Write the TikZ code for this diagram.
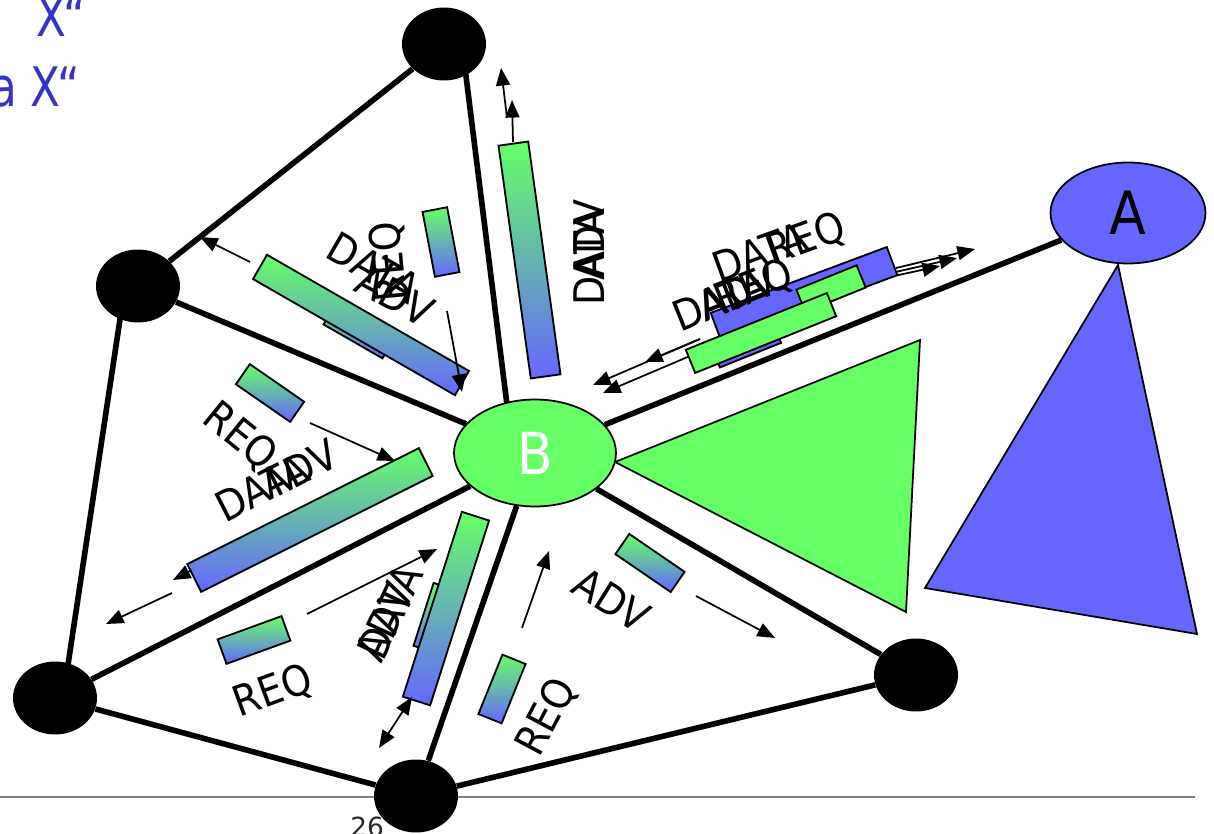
\documentclass[tikz,border=0pt]{standalone}
\usepackage{fontspec}
\setmainfont{DejaVu Sans}
\usetikzlibrary{shapes.geometric,calc,arrows.meta}
\definecolor{gG}{RGB}{102,255,102}
\definecolor{gB}{RGB}{102,102,255}
\definecolor{ttl}{RGB}{51,51,204}
\definecolor{gline}{RGB}{128,128,128}
\pgfdeclarelayer{bg}
\pgfsetlayers{bg,main}
\newcommand{\rbox}[6]{%
 \path[#1] ($(#2,#3)+(#6:#4/2)+(#6+90:#5/2)$) -- ($(#2,#3)+(#6:#4/2)+(#6-90:#5/2)$) -- ($(#2,#3)+(#6+180:#4/2)+(#6-90:#5/2)$) -- ($(#2,#3)+(#6+180:#4/2)+(#6+90:#5/2)$) -- cycle;}
\newcommand{\nt}[1]{\scalebox{0.9}[1]{#1}}
\begin{document}
\begin{tikzpicture}[x=0.02cm,y=-0.02cm,
  edge/.style={line width=3.2pt},
  blk/.style={ellipse,fill=black,minimum width=1.68cm,minimum height=1.46cm,inner sep=0pt},
  grad/.style={draw=black,line width=1.05pt,top color=gG,bottom color=gB},
  solidg/.style={draw=black,line width=1.05pt,fill=gG},
  solidb/.style={draw=black,line width=1.05pt,fill=gB},
  arr/.style={line width=1pt,-{Triangle[length=10pt,width=8pt]}},
  darr/.style={line width=1pt,{Triangle[length=10pt,width=8pt]}-{Triangle[length=10pt,width=8pt]}},
  lbl/.style={font=\fontsize{24}{26}\selectfont,inner sep=0pt}]
\useasboundingbox (0,0) rectangle (1214,834);

% nodes
\node[blk] (top) at (444,44) {};
\node[blk] (lft) at (138,286) {};
\node[blk] (bl) at (55,698) {};
\node[blk] (bot) at (416,796) {};
\node[blk] (rb) at (916,675) {};
\node[ellipse,draw,line width=1pt,fill=gG,minimum width=3.24cm,minimum height=2.14cm,inner sep=0pt,text=white,font=\fontsize{33}{36}\selectfont] (B) at (535,453) {\scalebox{0.9}[1]{B}};
\node[ellipse,draw,line width=1pt,fill=gB,minimum width=3.1cm,minimum height=2.02cm,inner sep=0pt,font=\fontsize{34}{36}\selectfont] (A) at (1128,213) {\scalebox{0.9}[1]{A}};

\begin{pgfonlayer}{bg}
\draw[gline,line width=1.1pt] (0,797) -- (1195,797);
\node[anchor=base west,inner sep=0pt,font=\fontsize{15}{18}\selectfont,text={rgb,255:red,40;green,40;blue,40}] (pg) at (350,836) {26};
\draw[edge] (top) -- (lft);
\draw[edge] ([xshift=-0.26cm]lft.center) -- ([xshift=0.16cm]bl.center);
\draw[edge] (bl) -- (bot);
\draw[edge] (bot) -- (rb);
\draw[edge] ([xshift=0.36cm]top.center) -- ([xshift=-0.44cm]B.center);
\draw[edge] (lft) -- (B);
\draw[edge] (bl) -- (B);
\draw[edge] (bot) -- (B);
\draw[edge] (rb) -- (B);
\draw[edge] (B) -- (A);
\draw[line width=1pt,fill=gG] (615,462) -- (920,340) -- (906,612) -- cycle;
\draw[line width=1pt,fill=gB] (1118,265) -- (925,588) -- (1197,634) -- cycle;
\end{pgfonlayer}

% title text
\node[anchor=base east,inner sep=0pt,text=ttl,font=\fontsize{31}{36}\selectfont] (x1) at (86,37) {\scalebox{0.8}[1]{X“}};
\node[anchor=base east,inner sep=0pt,text=ttl,font=\fontsize{31}{36}\selectfont] (x2) at (80,107) {\scalebox{0.8}[1]{a X“}};

% arrows under right cluster
\draw[arr] (862,283) -- (940,266);
\draw[arr] (878,276) -- (957,258);
\draw[arr] (896,268) -- (975,249);
\draw[arr] (700,339) -- (593,385);
\draw[arr] (700,339) -- (645,362);
\draw[arr] (690,356) -- (603,393);

% rectangles
\rbox{grad}{359}{331}{68}{24}{29.9}
\rbox{grad}{361}{325}{233}{28}{29.9}
\rbox{grad}{441}{242}{66}{25}{79.2}
\rbox{grad}{529.5}{260}{235}{30}{82.1}
\rbox{grad}{270}{393}{66}{24.5}{34.7}
\rbox{grad}{310}{520}{259}{31}{-26.6}
\rbox{grad}{254}{640}{68}{26}{-20}
\rbox{grad}{435}{618}{66}{24}{107.7}
\rbox{grad}{446}{608.6}{194}{28.6}{107.7}
\rbox{grad}{502}{689}{64}{25}{112}
\rbox{grad}{650}{563}{67}{24.5}{34.4}
\rbox{solidb}{804}{294}{188}{30}{-20.5}
\rbox{solidg}{831}{288.6}{65}{24}{-22}
\rbox{solidb}{746}{344}{66}{24}{-21.9}
\rbox{solidg}{761}{333}{152}{25}{-21.9}

% other arrows
\draw[arr] (250,262) -- (200,237);
\draw[arr] (447,311) -- (462,392);
\draw[arr] (513,142) -- (512,100);
\draw[arr] (507,118) -- (501,68);
\draw[arr] (310,423) -- (395,461);
\draw[arr] (190,571) -- (173,580);
\draw[arr] (172,593) -- (106,624);
\draw[arr] (307,614) -- (437,549);
\draw[darr] (412,697) -- (379,748);
\draw[arr] (522,628) -- (549,551);
\draw[arr] (696,596) -- (775,638);

% labels
\node[lbl,rotate=-30] (t1) at (374,268) {\nt{DATA}};
\node[lbl,rotate=-28] (t2) at (395,296) {\nt{ADV}};
\node[lbl,rotate=95] (t3) at (390,262) {\nt{REQ}};
\node[lbl,rotate=90] (t4) at (589,257) {\nt{DATA}};
\node[lbl,rotate=90] (t5) at (589,240) {\nt{ADV}};
\node[lbl,rotate=20] (t6) at (760,252) {\nt{DATA}};
\node[lbl,rotate=20] (t7) at (806,240) {\nt{REQ}};
\node[lbl,rotate=22] (t8) at (720,300) {\nt{DATA}};
\node[lbl,rotate=22] (t9) at (737,293) {\nt{ADV}};
\node[lbl,rotate=22] (t10) at (754,287) {\nt{REQ}};
\node[lbl,rotate=-39] (t11) at (240,437) {\nt{REQ}};
\node[lbl,rotate=27] (t12) at (262,488) {\nt{DATA}};
\node[lbl,rotate=27] (t13) at (299,469) {\nt{ADV}};
\node[lbl,rotate=65] (t14) at (390,612) {\nt{DATA}};
\node[lbl,rotate=65] (t15) at (385,622) {\nt{ADV}};
\node[lbl,rotate=20] (t16) at (273,692) {\nt{REQ}};
\node[lbl,rotate=62] (t17) at (547,717) {\nt{REQ}};
\node[lbl,rotate=-32] (t18) at (612,600) {\nt{ADV}};
\end{tikzpicture}
\end{document}
